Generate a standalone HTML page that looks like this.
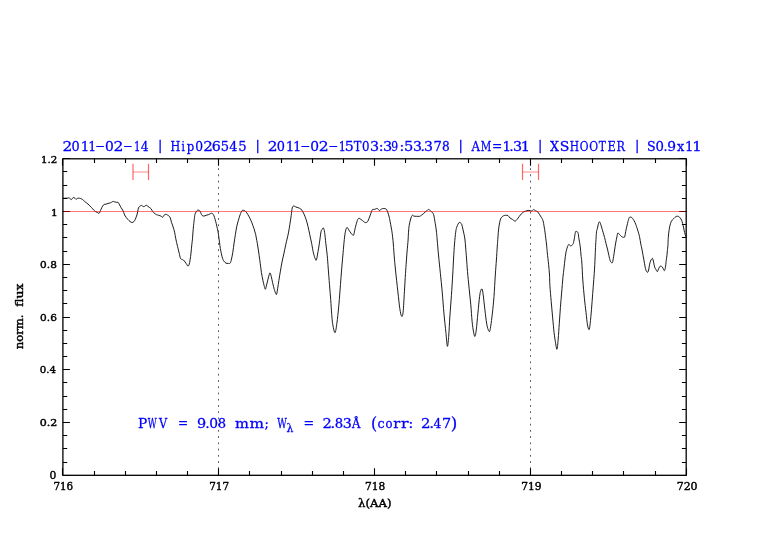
<!DOCTYPE html>
<html><head><meta charset="utf-8"><title>PWV plot</title>
<style>
html,body{margin:0;padding:0;background:#fff;width:782px;height:542px;overflow:hidden}
svg{display:block;will-change:transform}
text{font-family:"DejaVu Serif","Liberation Serif",serif}
</style></head><body>
<svg width="782" height="542" viewBox="0 0 782 542">
<rect width="782" height="542" fill="#fff"/>
<path d="M63,198.3C63.42,198.28 64.72,198.23 65.5,198.2C66.28,198.17 67.15,198.17 67.7,198.1C68.25,198.03 68.42,197.72 68.8,197.8C69.18,197.88 69.57,198.3 70,198.6C70.43,198.9 71,199.65 71.4,199.6C71.8,199.55 72.02,198.67 72.4,198.3C72.78,197.93 73.27,197.38 73.7,197.4C74.13,197.42 74.6,198.07 75,198.4C75.4,198.73 75.72,199.4 76.1,199.4C76.48,199.4 76.85,198.6 77.3,198.4C77.75,198.2 78.3,198.2 78.8,198.2C79.3,198.2 79.72,198.2 80.3,198.4C80.88,198.6 81.58,198.9 82.3,199.4C83.02,199.9 83.83,200.77 84.6,201.4C85.37,202.03 86.13,202.57 86.9,203.2C87.67,203.83 88.43,204.48 89.2,205.2C89.97,205.92 90.73,206.68 91.5,207.5C92.27,208.32 93.1,209.4 93.8,210.1C94.5,210.8 95.07,211.28 95.7,211.7C96.33,212.12 97.05,212.32 97.6,212.6C98.15,212.88 98.62,213.52 99,213.4C99.38,213.28 99.55,212.6 99.9,211.9C100.25,211.2 100.65,210.17 101.1,209.2C101.55,208.23 102.1,206.9 102.6,206.1C103.1,205.3 103.53,204.72 104.1,204.4C104.67,204.08 105.35,204.37 106,204.2C106.65,204.03 107.28,203.62 108,203.4C108.72,203.18 109.67,203.12 110.3,202.9C110.93,202.68 111.33,202.35 111.8,202.1C112.27,201.85 112.63,201.43 113.1,201.4C113.57,201.37 114.05,201.75 114.6,201.9C115.15,202.05 115.82,202.22 116.4,202.3C116.98,202.38 117.57,201.95 118.1,202.4C118.63,202.85 119.1,204.12 119.6,205C120.1,205.88 120.58,206.87 121.1,207.7C121.62,208.53 122.25,209.17 122.7,210C123.15,210.83 123.48,211.87 123.8,212.7C124.12,213.53 124.22,214.23 124.6,215C124.98,215.77 125.53,216.53 126.1,217.3C126.67,218.07 127.35,218.9 128,219.6C128.65,220.3 129.35,221.02 130,221.5C130.65,221.98 131.27,222.47 131.9,222.5C132.53,222.53 133.23,222.25 133.8,221.7C134.37,221.15 134.78,220.32 135.3,219.2C135.82,218.08 136.48,216.35 136.9,215C137.32,213.65 137.55,212.27 137.8,211.1C138.05,209.93 138.1,208.77 138.4,208C138.7,207.23 139.08,206.93 139.6,206.5C140.12,206.07 140.93,205.4 141.5,205.4C142.07,205.4 142.5,206.33 143,206.5C143.5,206.67 143.98,206.62 144.5,206.4C145.02,206.18 145.58,205.25 146.1,205.2C146.62,205.15 147.08,205.75 147.6,206.1C148.12,206.45 148.62,206.85 149.2,207.3C149.78,207.75 150.53,208.1 151.1,208.8C151.67,209.5 152.1,210.8 152.6,211.5C153.1,212.2 153.47,212.48 154.1,213C154.73,213.52 155.63,214.22 156.4,214.6C157.17,214.98 157.93,215.05 158.7,215.3C159.47,215.55 160.35,215.77 161,216.1C161.65,216.43 162.08,217.47 162.6,217.3C163.12,217.13 163.58,215.6 164.1,215.1C164.62,214.6 165.12,214.3 165.7,214.3C166.28,214.3 167.03,214.8 167.6,215.1C168.17,215.4 168.65,215.62 169.1,216.1C169.55,216.58 169.9,216.97 170.3,218C170.7,219.03 171.03,220.82 171.5,222.3C171.97,223.78 172.58,225.25 173.1,226.9C173.62,228.55 174.15,230.22 174.6,232.2C175.05,234.18 175.32,236.45 175.8,238.8C176.28,241.15 176.93,243.92 177.5,246.3C178.07,248.68 178.72,251.12 179.2,253.1C179.68,255.08 179.98,257.15 180.4,258.2C180.82,259.25 181.2,259.1 181.7,259.4C182.2,259.7 182.83,259.57 183.4,260C183.97,260.43 184.53,261.25 185.1,262C185.67,262.75 186.32,263.8 186.8,264.5C187.28,265.2 187.58,266.27 188,266.2C188.42,266.13 188.95,265.17 189.3,264.1C189.65,263.03 189.82,261.63 190.1,259.8C190.38,257.97 190.72,255.62 191,253.1C191.28,250.58 191.55,247.08 191.8,244.7C192.05,242.32 192.32,240.75 192.5,238.8C192.68,236.85 192.72,235.25 192.9,233C193.08,230.75 193.35,227.73 193.6,225.3C193.85,222.87 194.18,220.18 194.4,218.4C194.62,216.62 194.62,215.68 194.9,214.6C195.18,213.52 195.67,212.63 196.1,211.9C196.53,211.17 196.98,210.45 197.5,210.2C198.02,209.95 198.73,210.18 199.2,210.4C199.67,210.62 199.98,210.95 200.3,211.5C200.62,212.05 200.78,213.03 201.1,213.7C201.42,214.37 201.75,215.1 202.2,215.5C202.65,215.9 203.15,216.13 203.8,216.1C204.45,216.07 205.33,215.53 206.1,215.3C206.87,215.07 207.7,214.97 208.4,214.7C209.1,214.43 209.73,213.95 210.3,213.7C210.87,213.45 211.28,213.05 211.8,213.2C212.32,213.35 212.95,213.92 213.4,214.6C213.85,215.28 214.12,216.15 214.5,217.3C214.88,218.45 215.32,220.03 215.7,221.5C216.08,222.97 216.42,224.43 216.8,226.1C217.18,227.77 217.63,229.43 218,231.5C218.37,233.57 218.68,236.17 219,238.5C219.32,240.83 219.58,243.35 219.9,245.5C220.22,247.65 220.47,249.28 220.9,251.4C221.33,253.52 222,256.58 222.5,258.2C223,259.82 223.32,260.27 223.9,261.1C224.48,261.93 225.3,262.82 226,263.2C226.7,263.58 227.4,263.42 228.1,263.4C228.8,263.38 229.63,263.83 230.2,263.1C230.77,262.37 231.07,260.8 231.5,259C231.93,257.2 232.37,254.97 232.8,252.3C233.23,249.63 233.67,245.97 234.1,243C234.53,240.03 234.95,237.3 235.4,234.5C235.85,231.7 236.3,228.57 236.8,226.2C237.3,223.83 237.85,222.2 238.4,220.3C238.95,218.4 239.53,216.35 240.1,214.8C240.67,213.25 241.3,211.75 241.8,211C242.3,210.25 242.65,210.38 243.1,210.3C243.55,210.22 244.02,210.25 244.5,210.5C244.98,210.75 245.47,211.17 246,211.8C246.53,212.43 247.07,213.25 247.7,214.3C248.33,215.35 249.1,216.68 249.8,218.1C250.5,219.52 251.2,221.03 251.9,222.8C252.6,224.57 253.37,226.73 254,228.7C254.63,230.67 255.23,232.63 255.7,234.6C256.17,236.57 256.43,238.43 256.8,240.5C257.17,242.57 257.52,244.55 257.9,247C258.28,249.45 258.72,252.5 259.1,255.2C259.48,257.9 259.82,260.35 260.2,263.2C260.58,266.05 260.95,269.45 261.4,272.3C261.85,275.15 262.4,277.92 262.9,280.3C263.4,282.68 263.98,285.12 264.4,286.6C264.82,288.08 265.03,289.48 265.4,289.2C265.77,288.92 266.17,286.57 266.6,284.9C267.03,283.23 267.57,280.92 268,279.2C268.43,277.48 268.85,275.65 269.2,274.6C269.55,273.55 269.77,272.62 270.1,272.9C270.43,273.18 270.78,274.68 271.2,276.3C271.62,277.92 272.08,280.4 272.6,282.6C273.12,284.8 273.77,287.68 274.3,289.5C274.83,291.32 275.42,292.7 275.8,293.5C276.18,294.3 276.28,295.17 276.6,294.3C276.92,293.43 277.32,290.63 277.7,288.3C278.08,285.97 278.45,283.15 278.9,280.3C279.35,277.45 279.88,274.25 280.4,271.2C280.92,268.15 281.43,264.87 282,262C282.57,259.13 283.18,256.85 283.8,254C284.42,251.15 285.12,247.57 285.7,244.9C286.28,242.23 286.82,240.13 287.3,238C287.78,235.87 288.17,234.4 288.6,232.1C289.03,229.8 289.47,226.97 289.9,224.2C290.33,221.43 290.82,218.2 291.2,215.5C291.58,212.8 291.8,209.58 292.2,208C292.6,206.42 292.97,206.17 293.6,206C294.23,205.83 295.2,206.7 296,207C296.8,207.3 297.6,207.47 298.4,207.8C299.2,208.13 300.1,208.4 300.8,209C301.5,209.6 302,210.4 302.6,211.4C303.2,212.4 303.8,213.6 304.4,215C305,216.4 305.6,217.9 306.2,219.8C306.8,221.7 307.4,223.9 308,226.4C308.6,228.9 309.2,232 309.8,234.8C310.4,237.6 311,240.2 311.6,243.2C312.2,246.2 312.8,250.2 313.4,252.8C314,255.4 314.7,257.6 315.2,258.8C315.7,260 316,260.8 316.4,260C316.8,259.2 317.1,256.8 317.6,254C318.1,251.2 318.83,246.9 319.4,243.2C319.97,239.5 320.53,234.1 321,231.8C321.47,229.5 321.8,230.05 322.2,229.4C322.6,228.75 323,227.4 323.4,227.9C323.8,228.4 324.2,229.85 324.6,232.4C325,234.95 325.37,239.4 325.8,243.2C326.23,247 326.8,251.07 327.2,255.2C327.6,259.33 327.82,263.07 328.2,268C328.58,272.93 329.08,279.55 329.5,284.8C329.92,290.05 330.33,294.58 330.7,299.5C331.07,304.42 331.35,310.12 331.7,314.3C332.05,318.48 332.25,321.53 332.8,324.6C333.35,327.67 334.32,332.95 335,332.7C335.68,332.45 336.28,327.4 336.9,323.1C337.52,318.8 338.2,312.07 338.7,306.9C339.2,301.73 339.52,297.02 339.9,292.1C340.28,287.18 340.65,281.92 341,277.4C341.35,272.88 341.65,269.1 342,265C342.35,260.9 342.72,257.03 343.1,252.8C343.48,248.57 343.9,243.2 344.3,239.6C344.7,236 345.05,233.23 345.5,231.2C345.95,229.17 346.45,227.6 347,227.4C347.55,227.2 348.3,229.27 348.8,230C349.3,230.73 349.55,231.17 350,231.8C350.45,232.43 350.92,233.22 351.5,233.8C352.08,234.38 352.98,235.82 353.5,235.3C354.02,234.78 354.17,232.48 354.6,230.7C355.03,228.92 355.58,226.45 356.1,224.6C356.62,222.75 357.2,220.65 357.7,219.6C358.2,218.55 358.6,218.37 359.1,218.3C359.6,218.23 360.1,218.8 360.7,219.2C361.3,219.6 362.05,220.18 362.7,220.7C363.35,221.22 364.03,221.98 364.6,222.3C365.17,222.62 365.58,222.73 366.1,222.6C366.62,222.47 367.22,222.2 367.7,221.5C368.18,220.8 368.57,219.48 369,218.4C369.43,217.32 369.88,216.15 370.3,215C370.72,213.85 371.15,212.4 371.5,211.5C371.85,210.6 371.95,209.95 372.4,209.6C372.85,209.25 373.58,209.53 374.2,209.4C374.82,209.27 375.6,208.98 376.1,208.8C376.6,208.62 376.82,208.17 377.2,208.3C377.58,208.43 378.02,209.22 378.4,209.6C378.78,209.98 379.12,210.6 379.5,210.6C379.88,210.6 380.18,209.93 380.7,209.6C381.22,209.27 381.9,208.77 382.6,208.6C383.3,208.43 384.25,208.47 384.9,208.6C385.55,208.73 386.05,208.85 386.5,209.4C386.95,209.95 387.28,211.1 387.6,211.9C387.92,212.7 388.08,213.12 388.4,214.2C388.72,215.28 389.12,216.67 389.5,218.4C389.88,220.13 390.32,222.55 390.7,224.6C391.08,226.65 391.48,228.67 391.8,230.7C392.12,232.73 392.33,234.42 392.6,236.8C392.87,239.18 393.13,241.8 393.4,245C393.67,248.2 393.85,251.83 394.2,256C394.55,260.17 394.88,264.02 395.5,270C396.12,275.98 397.18,285.48 397.9,291.9C398.62,298.32 399.18,304.43 399.8,308.5C400.42,312.57 401.05,315.68 401.6,316.3C402.15,316.92 402.63,316.27 403.1,312.2C403.57,308.13 404,298.35 404.4,291.9C404.8,285.45 405.18,278.48 405.5,273.5C405.82,268.52 406.03,265.75 406.3,262C406.57,258.25 406.8,254.67 407.1,251C407.4,247.33 407.87,243.13 408.1,240C408.33,236.87 408.32,234.65 408.5,232.2C408.68,229.75 408.88,227.33 409.2,225.3C409.52,223.27 410.02,221.47 410.4,220C410.78,218.53 411.15,217.3 411.5,216.5C411.85,215.7 412.12,215.27 412.5,215.2C412.88,215.13 413.13,215.92 413.8,216.1C414.47,216.28 415.53,216.27 416.5,216.3C417.47,216.33 418.77,216.48 419.6,216.3C420.43,216.12 420.87,215.63 421.5,215.2C422.13,214.77 422.77,214.25 423.4,213.7C424.03,213.15 424.65,212.45 425.3,211.9C425.95,211.35 426.78,210.82 427.3,210.4C427.82,209.98 428.02,209.45 428.4,209.4C428.78,209.35 429.08,209.72 429.6,210.1C430.12,210.48 430.93,211.18 431.5,211.7C432.07,212.22 432.58,212.47 433,213.2C433.42,213.93 433.68,214.72 434,216.1C434.32,217.48 434.62,219.83 434.9,221.5C435.18,223.17 435.43,224.32 435.7,226.1C435.97,227.88 436.25,229.88 436.5,232.2C436.75,234.52 436.87,236.2 437.2,240C437.53,243.8 437.97,249.42 438.5,255C439.03,260.58 439.78,267.35 440.4,273.5C441.02,279.65 441.6,285.15 442.2,291.9C442.8,298.65 443.38,307.23 444,314C444.62,320.77 445.33,327.12 445.9,332.5C446.47,337.88 446.93,345.68 447.4,346.3C447.87,346.92 448.28,341.27 448.7,336.2C449.12,331.13 449.45,322.67 449.9,315.9C450.35,309.13 450.93,302.42 451.4,295.6C451.87,288.78 452.33,281.27 452.7,275C453.07,268.73 453.3,263.17 453.6,258C453.9,252.83 454.15,248.3 454.5,244C454.85,239.7 455.35,234.93 455.7,232.2C456.05,229.47 456.22,228.93 456.6,227.6C456.98,226.27 457.55,225.07 458,224.2C458.45,223.33 458.87,222.62 459.3,222.4C459.73,222.18 460.18,222.53 460.6,222.9C461.02,223.27 461.42,223.55 461.8,224.6C462.18,225.65 462.52,227.55 462.9,229.2C463.28,230.85 463.75,232.7 464.1,234.5C464.45,236.3 464.73,237.75 465,240C465.27,242.25 465.45,245 465.7,248C465.95,251 466.2,254.07 466.5,258C466.8,261.93 467.07,266.57 467.5,271.6C467.93,276.63 468.55,282.67 469.1,288.2C469.65,293.73 470.3,299.27 470.8,304.8C471.3,310.33 471.63,316.83 472.1,321.4C472.57,325.97 473.13,329.7 473.6,332.2C474.07,334.7 474.45,336.8 474.9,336.4C475.35,336 475.8,333.68 476.3,329.8C476.8,325.92 477.35,318.65 477.9,313.1C478.45,307.55 479.13,300.23 479.6,296.5C480.07,292.77 480.28,291.93 480.7,290.7C481.12,289.47 481.68,288.4 482.1,289.1C482.52,289.8 482.73,291.45 483.2,294.9C483.67,298.35 484.33,305.1 484.9,309.8C485.47,314.5 486.05,319.77 486.6,323.1C487.15,326.43 487.7,328.42 488.2,329.8C488.7,331.18 489.18,331.97 489.6,331.4C490.02,330.83 490.23,329.45 490.7,326.4C491.17,323.35 491.85,318.08 492.4,313.1C492.95,308.12 493.52,302.85 494,296.5C494.48,290.15 494.9,281.08 495.3,275C495.7,268.92 496.07,264.83 496.4,260C496.73,255.17 497.05,249.67 497.3,246C497.55,242.33 497.73,240.3 497.9,238C498.07,235.7 498.13,234.05 498.3,232.2C498.47,230.35 498.67,228.55 498.9,226.9C499.13,225.25 499.38,223.72 499.7,222.3C500.02,220.88 500.35,219.37 500.8,218.4C501.25,217.43 501.82,216.98 502.4,216.5C502.98,216.02 503.67,215.7 504.3,215.5C504.93,215.3 505.57,215.27 506.2,215.3C506.83,215.33 507.47,215.25 508.1,215.7C508.73,216.15 509.3,217.4 510,218C510.7,218.6 511.47,218.78 512.3,219.3C513.13,219.82 514.23,221.05 515,221.1C515.77,221.15 516.2,220.37 516.9,219.6C517.6,218.83 518.43,217.48 519.2,216.5C519.97,215.52 520.73,214.47 521.5,213.7C522.27,212.93 523.02,212.37 523.8,211.9C524.58,211.43 525.48,211.15 526.2,210.9C526.92,210.65 527.47,210.45 528.1,210.4C528.73,210.35 529.43,210.48 530,210.6C530.57,210.72 531.05,211.18 531.5,211.1C531.95,211.02 532.32,210.35 532.7,210.1C533.08,209.85 533.35,209.52 533.8,209.6C534.25,209.68 534.75,210.22 535.4,210.6C536.05,210.98 537,211.23 537.7,211.9C538.4,212.57 538.97,213.63 539.6,214.6C540.23,215.57 540.93,216.68 541.5,217.7C542.07,218.72 542.55,219.17 543,220.7C543.45,222.23 543.87,224.98 544.2,226.9C544.53,228.82 544.73,230.27 545,232.2C545.27,234.13 545.53,236.37 545.8,238.5C546.07,240.63 546.35,242.62 546.6,245C546.85,247.38 546.97,249.57 547.3,252.8C547.63,256.03 548.23,260.7 548.6,264.4C548.97,268.1 549.28,271.45 549.5,275C549.72,278.55 549.62,281.3 549.9,285.7C550.18,290.1 550.75,296.17 551.2,301.4C551.65,306.63 552.12,311.88 552.6,317.1C553.08,322.32 553.58,328.27 554.1,332.7C554.62,337.13 555.22,340.95 555.7,343.7C556.18,346.45 556.58,349.98 557,349.2C557.42,348.42 557.82,343.32 558.2,339C558.58,334.68 558.93,328.53 559.3,323.3C559.67,318.07 560,312.82 560.4,307.6C560.8,302.38 561.28,296.97 561.7,292C562.12,287.03 562.52,281.8 562.9,277.8C563.28,273.8 563.67,270.97 564,268C564.33,265.03 564.62,262.32 564.9,260C565.18,257.68 565.45,255.72 565.7,254.1C565.95,252.48 566.08,251.57 566.4,250.3C566.72,249.03 567.22,247.47 567.6,246.5C567.98,245.53 568.32,244.7 568.7,244.5C569.08,244.3 569.52,245.03 569.9,245.3C570.28,245.57 570.62,246.17 571,246.1C571.38,246.03 571.82,245.35 572.2,244.9C572.58,244.45 572.95,244.42 573.3,243.4C573.65,242.38 574.02,240.33 574.3,238.8C574.58,237.27 574.75,235.45 575,234.2C575.25,232.95 575.5,231.72 575.8,231.3C576.1,230.88 576.42,231.45 576.8,231.7C577.18,231.95 577.78,231.87 578.1,232.8C578.42,233.73 578.45,235.67 578.7,237.3C578.95,238.93 579.32,240.82 579.6,242.6C579.88,244.38 580.17,245.93 580.4,248C580.63,250.07 580.77,252.67 581,255C581.23,257.33 581.5,257.83 581.8,262C582.1,266.17 582.37,273.97 582.8,280C583.23,286.03 583.87,292.82 584.4,298.2C584.93,303.58 585.48,307.85 586,312.3C586.52,316.75 586.98,322.02 587.5,324.9C588.02,327.78 588.65,329.87 589.1,329.6C589.55,329.33 589.8,326.7 590.2,323.3C590.6,319.9 591.08,314.17 591.5,309.2C591.92,304.23 592.32,298.47 592.7,293.5C593.08,288.53 593.48,283.65 593.8,279.4C594.12,275.15 594.37,272.07 594.6,268C594.83,263.93 595.03,258.72 595.2,255C595.37,251.28 595.47,248.27 595.6,245.7C595.73,243.13 595.85,241.9 596,239.6C596.15,237.3 596.25,233.83 596.5,231.9C596.75,229.97 597.2,229.28 597.5,228C597.8,226.72 598,225.23 598.3,224.2C598.6,223.17 598.97,221.97 599.3,221.8C599.63,221.63 599.93,222.35 600.3,223.2C600.67,224.05 601.03,225.38 601.5,226.9C601.97,228.42 602.58,230.52 603.1,232.3C603.62,234.08 604.1,235.68 604.6,237.6C605.1,239.52 605.58,241.73 606.1,243.8C606.62,245.87 607.23,248.05 607.7,250C608.17,251.95 608.48,253.7 608.9,255.5C609.32,257.3 609.78,259.62 610.2,260.8C610.62,261.98 611.02,262.33 611.4,262.6C611.78,262.87 612.13,263.38 612.5,262.4C612.87,261.42 613.25,258.77 613.6,256.7C613.95,254.63 614.25,252.28 614.6,250C614.95,247.72 615.32,245.18 615.7,243C616.08,240.82 616.55,238.57 616.9,236.9C617.25,235.23 617.35,233.38 617.8,233C618.25,232.62 618.98,234.02 619.6,234.6C620.22,235.18 620.93,236.07 621.5,236.5C622.07,236.93 622.48,237.12 623,237.2C623.52,237.28 624.15,237.95 624.6,237C625.05,236.05 625.32,233.32 625.7,231.5C626.08,229.68 626.52,227.77 626.9,226.1C627.28,224.43 627.62,222.9 628,221.5C628.38,220.1 628.82,218.43 629.2,217.7C629.58,216.97 629.87,217.13 630.3,217.1C630.73,217.07 631.28,217.08 631.8,217.5C632.32,217.92 632.88,218.8 633.4,219.6C633.92,220.4 634.38,221.15 634.9,222.3C635.42,223.45 635.98,225.03 636.5,226.5C637.02,227.97 637.5,229.43 638,231.1C638.5,232.77 639.03,234.33 639.5,236.5C639.97,238.67 640.4,242.02 640.8,244.1C641.2,246.18 641.55,247.27 641.9,249C642.25,250.73 642.57,252.67 642.9,254.5C643.23,256.33 643.55,258.05 643.9,260C644.25,261.95 644.65,264.47 645,266.2C645.35,267.93 645.55,269.38 646,270.4C646.45,271.42 647.23,272.53 647.7,272.3C648.17,272.07 648.5,270.23 648.8,269C649.1,267.77 649.22,266.22 649.5,264.9C649.78,263.58 650.17,262.03 650.5,261.1C650.83,260.17 651.15,259.73 651.5,259.3C651.85,258.87 652.25,258.03 652.6,258.5C652.95,258.97 653.27,260.7 653.6,262.1C653.93,263.5 654.2,265.63 654.6,266.9C655,268.17 655.53,268.92 656,269.7C656.47,270.48 656.93,271.83 657.4,271.6C657.87,271.37 658.33,269.2 658.8,268.3C659.27,267.4 659.73,266.52 660.2,266.2C660.67,265.88 661.15,266.1 661.6,266.4C662.05,266.7 662.45,267.28 662.9,268C663.35,268.72 663.88,270.77 664.3,270.7C664.72,270.63 665.08,269.27 665.4,267.6C665.72,265.93 665.95,262.65 666.2,260.7C666.45,258.75 666.7,257.62 666.9,255.9C667.1,254.18 667.23,252.13 667.4,250.4C667.57,248.67 667.75,247.65 667.9,245.5C668.05,243.35 668.12,239.95 668.3,237.5C668.48,235.05 668.73,232.77 669,230.8C669.27,228.83 669.5,227.3 669.9,225.7C670.3,224.1 670.78,222.37 671.4,221.2C672.02,220.03 672.87,219.45 673.6,218.7C674.33,217.95 675.12,217.12 675.8,216.7C676.48,216.28 677.08,216.12 677.7,216.2C678.32,216.28 678.95,216.73 679.5,217.2C680.05,217.67 680.57,218.27 681,219C681.43,219.73 681.73,220.48 682.1,221.6C682.47,222.72 682.87,224.28 683.2,225.7C683.53,227.12 683.78,228.63 684.1,230.1C684.42,231.57 684.75,233.37 685.1,234.5C685.45,235.63 686.02,236.5 686.2,236.9" fill="none" stroke="#111" stroke-width="0.95" stroke-linejoin="round"/>
<path d="M218.5,158.8V475.3" stroke="#222" stroke-width="0.75" stroke-dasharray="1.8 4.432" stroke-dashoffset="3.064" fill="none"/><path d="M530.5,158.8V475.3" stroke="#222" stroke-width="0.75" stroke-dasharray="1.8 4.432" stroke-dashoffset="3.064" fill="none"/>
<path d="M133,163.8V179.9M148.5,163.8V179.9" stroke="#ff0000" stroke-opacity="0.6" stroke-width="1.2" fill="none"/><path d="M133,172H148.5" stroke="#ff0000" stroke-opacity="0.33" stroke-width="1.4" fill="none"/><path d="M522.5,163.8V179.9M538.5,163.8V179.9" stroke="#ff0000" stroke-opacity="0.6" stroke-width="1.2" fill="none"/><path d="M522.5,172H538.5" stroke="#ff0000" stroke-opacity="0.33" stroke-width="1.4" fill="none"/>
<path d="M62.5,475.3V468.3M62.5,158.8V165.8M94.5,475.3V471M94.5,158.8V163.1M125.5,475.3V471M125.5,158.8V163.1M156.5,475.3V471M156.5,158.8V163.1M187.5,475.3V471M187.5,158.8V163.1M218.5,475.3V468.3M218.5,158.8V165.8M249.5,475.3V471M249.5,158.8V163.1M281.5,475.3V471M281.5,158.8V163.1M312.5,475.3V471M312.5,158.8V163.1M343.5,475.3V471M343.5,158.8V163.1M374.5,475.3V468.3M374.5,158.8V165.8M405.5,475.3V471M405.5,158.8V163.1M436.5,475.3V471M436.5,158.8V163.1M468.5,475.3V471M468.5,158.8V163.1M499.5,475.3V471M499.5,158.8V163.1M530.5,475.3V468.3M530.5,158.8V165.8M561.5,475.3V471M561.5,158.8V163.1M592.5,475.3V471M592.5,158.8V163.1M623.5,475.3V471M623.5,158.8V163.1M655.5,475.3V471M655.5,158.8V163.1M686.5,475.3V468.3M686.5,158.8V165.8M62.9,475.5H69.9M686.2,475.5H679.2M62.9,462.5H67.2M686.2,462.5H681.9M62.9,448.5H67.2M686.2,448.5H681.9M62.9,435.5H67.2M686.2,435.5H681.9M62.9,422.5H69.9M686.2,422.5H679.2M62.9,409.5H67.2M686.2,409.5H681.9M62.9,396.5H67.2M686.2,396.5H681.9M62.9,382.5H67.2M686.2,382.5H681.9M62.9,369.5H69.9M686.2,369.5H679.2M62.9,356.5H67.2M686.2,356.5H681.9M62.9,343.5H67.2M686.2,343.5H681.9M62.9,330.5H67.2M686.2,330.5H681.9M62.9,317.5H69.9M686.2,317.5H679.2M62.9,303.5H67.2M686.2,303.5H681.9M62.9,290.5H67.2M686.2,290.5H681.9M62.9,277.5H67.2M686.2,277.5H681.9M62.9,264.5H69.9M686.2,264.5H679.2M62.9,251.5H67.2M686.2,251.5H681.9M62.9,237.5H67.2M686.2,237.5H681.9M62.9,224.5H67.2M686.2,224.5H681.9M62.9,211.5H69.9M686.2,211.5H679.2M62.9,198.5H67.2M686.2,198.5H681.9M62.9,185.5H67.2M686.2,185.5H681.9M62.9,171.5H67.2M686.2,171.5H681.9M62.9,158.5H69.9M686.2,158.5H679.2" stroke="#000" stroke-width="1.1" fill="none"/>
<path d="M63.8,211.5H685.3" stroke="#ff0000" stroke-opacity="0.53" stroke-width="1"/>
<rect x="62.9" y="158.8" width="623.3" height="316.5" fill="none" stroke="#000" stroke-width="1.3"/>
<text font-size="14" fill="#0000ff" stroke="#0000ff" stroke-linejoin="round" stroke-width="0.28"><tspan x="62.47" y="150.75" font-size="13.805" textLength="9.801" lengthAdjust="spacingAndGlyphs">2</tspan><tspan x="71.61" y="150.52" font-size="13.491" textLength="8.197" lengthAdjust="spacingAndGlyphs">0</tspan><tspan x="80.65" y="150.76" font-size="13.491" textLength="8.586" lengthAdjust="spacingAndGlyphs">1</tspan><tspan x="88.16" y="150.76" font-size="13.491" textLength="7.938" lengthAdjust="spacingAndGlyphs">1</tspan><tspan x="95.12" y="150.27" font-size="13.608" textLength="10.218" lengthAdjust="spacingAndGlyphs" stroke-width="0.05">-</tspan><tspan x="105.06" y="150.52" font-size="13.491" textLength="8.791" lengthAdjust="spacingAndGlyphs">0</tspan><tspan x="113.56" y="150.75" font-size="13.805" textLength="9.928" lengthAdjust="spacingAndGlyphs">2</tspan><tspan x="122.72" y="150.27" font-size="13.608" textLength="10.218" lengthAdjust="spacingAndGlyphs" stroke-width="0.05">-</tspan><tspan x="133.91" y="150.76" font-size="13.491" textLength="6.480" lengthAdjust="spacingAndGlyphs">1</tspan><tspan x="140.78" y="150.76" font-size="13.491" textLength="7.884" lengthAdjust="spacingAndGlyphs">4</tspan> <tspan x="158.12" y="149.57" font-size="12.938" textLength="4.361" lengthAdjust="spacingAndGlyphs">|</tspan> <tspan x="170.6" y="150.75" font-size="13.805" textLength="9.769" lengthAdjust="spacingAndGlyphs">H</tspan><tspan x="181.61" y="151" font-size="13.608" textLength="3.360" lengthAdjust="spacingAndGlyphs">i</tspan><tspan x="186.69" y="151" font-size="13.608" textLength="7.498" lengthAdjust="spacingAndGlyphs">p</tspan><tspan x="195.34" y="150.52" font-size="13.491" textLength="7.841" lengthAdjust="spacingAndGlyphs">0</tspan><tspan x="203.19" y="150.75" font-size="13.805" textLength="9.674" lengthAdjust="spacingAndGlyphs">2</tspan><tspan x="211.84" y="150.52" font-size="13.491" textLength="9.029" lengthAdjust="spacingAndGlyphs">6</tspan><tspan x="220.67" y="150.75" font-size="13.805" textLength="8.274" lengthAdjust="spacingAndGlyphs">5</tspan><tspan x="229.27" y="150.76" font-size="13.491" textLength="8.208" lengthAdjust="spacingAndGlyphs">4</tspan><tspan x="238.26" y="150.75" font-size="13.805" textLength="8.401" lengthAdjust="spacingAndGlyphs">5</tspan> <tspan x="255.42" y="149.57" font-size="12.938" textLength="4.361" lengthAdjust="spacingAndGlyphs">|</tspan> <tspan x="267.68" y="150.75" font-size="13.805" textLength="9.801" lengthAdjust="spacingAndGlyphs">2</tspan><tspan x="276.81" y="150.52" font-size="13.491" textLength="8.197" lengthAdjust="spacingAndGlyphs">0</tspan><tspan x="285.85" y="150.76" font-size="13.491" textLength="8.586" lengthAdjust="spacingAndGlyphs">1</tspan><tspan x="293.36" y="150.76" font-size="13.491" textLength="7.938" lengthAdjust="spacingAndGlyphs">1</tspan><tspan x="299.99" y="150.27" font-size="13.608" textLength="10.470" lengthAdjust="spacingAndGlyphs" stroke-width="0.05">-</tspan><tspan x="310.36" y="150.52" font-size="13.491" textLength="8.791" lengthAdjust="spacingAndGlyphs">0</tspan><tspan x="318.86" y="150.75" font-size="13.805" textLength="9.928" lengthAdjust="spacingAndGlyphs">2</tspan><tspan x="328.09" y="150.27" font-size="13.608" textLength="10.470" lengthAdjust="spacingAndGlyphs" stroke-width="0.05">-</tspan><tspan x="338.8" y="150.76" font-size="13.491" textLength="7.128" lengthAdjust="spacingAndGlyphs">1</tspan><tspan x="344.89" y="150.75" font-size="13.805" textLength="9.037" lengthAdjust="spacingAndGlyphs">5</tspan><tspan x="353.7" y="150.75" font-size="13.805" textLength="7.669" lengthAdjust="spacingAndGlyphs">T</tspan><tspan x="361.97" y="150.52" font-size="13.491" textLength="7.485" lengthAdjust="spacingAndGlyphs">0</tspan><tspan x="370.03" y="150.52" font-size="13.491" textLength="9.095" lengthAdjust="spacingAndGlyphs">3</tspan><tspan x="378.72" y="151" font-size="13.608" textLength="4.824" lengthAdjust="spacingAndGlyphs">:</tspan><tspan x="382.92" y="150.52" font-size="13.491" textLength="9.217" lengthAdjust="spacingAndGlyphs">3</tspan><tspan x="391.32" y="150.52" font-size="13.491" textLength="6.891" lengthAdjust="spacingAndGlyphs">9</tspan><tspan x="399.42" y="151" font-size="13.608" textLength="4.824" lengthAdjust="spacingAndGlyphs">:</tspan><tspan x="403.96" y="150.75" font-size="13.805" textLength="9.292" lengthAdjust="spacingAndGlyphs">5</tspan><tspan x="413.04" y="150.52" font-size="13.491" textLength="8.972" lengthAdjust="spacingAndGlyphs">3</tspan><tspan x="420.55" y="151" font-size="13.608" textLength="4.453" lengthAdjust="spacingAndGlyphs">.</tspan><tspan x="424.14" y="150.52" font-size="13.491" textLength="8.972" lengthAdjust="spacingAndGlyphs">3</tspan><tspan x="433.57" y="150.75" font-size="13.805" textLength="8.274" lengthAdjust="spacingAndGlyphs">7</tspan><tspan x="441.95" y="150.52" font-size="13.491" textLength="7.722" lengthAdjust="spacingAndGlyphs">8</tspan> <tspan x="458.42" y="149.57" font-size="12.938" textLength="4.361" lengthAdjust="spacingAndGlyphs">|</tspan> <tspan x="471.51" y="150.75" font-size="13.805" textLength="8.467" lengthAdjust="spacingAndGlyphs">A</tspan><tspan x="480.73" y="150.75" font-size="13.805" textLength="10.603" lengthAdjust="spacingAndGlyphs">M</tspan><tspan x="491.91" y="150.25" font-size="13.608" textLength="10.272" lengthAdjust="spacingAndGlyphs">=</tspan><tspan x="502.55" y="150.76" font-size="13.491" textLength="8.586" lengthAdjust="spacingAndGlyphs">1</tspan><tspan x="509.35" y="151" font-size="13.608" textLength="4.453" lengthAdjust="spacingAndGlyphs">.</tspan><tspan x="513.03" y="150.52" font-size="13.491" textLength="9.095" lengthAdjust="spacingAndGlyphs">3</tspan><tspan x="520.85" y="150.76" font-size="13.491" textLength="9.234" lengthAdjust="spacingAndGlyphs">1</tspan> <tspan x="537.92" y="149.57" font-size="12.938" textLength="4.361" lengthAdjust="spacingAndGlyphs">|</tspan> <tspan x="550.1" y="150.75" font-size="13.805" textLength="8.972" lengthAdjust="spacingAndGlyphs">X</tspan><tspan x="559.89" y="150.52" font-size="13.491" textLength="9.656" lengthAdjust="spacingAndGlyphs">S</tspan><tspan x="569.72" y="150.75" font-size="13.805" textLength="9.335" lengthAdjust="spacingAndGlyphs">H</tspan><tspan x="579.72" y="150.52" font-size="13.491" textLength="8.747" lengthAdjust="spacingAndGlyphs">O</tspan><tspan x="589.21" y="150.52" font-size="13.491" textLength="8.856" lengthAdjust="spacingAndGlyphs">O</tspan><tspan x="598.8" y="150.75" font-size="13.805" textLength="7.177" lengthAdjust="spacingAndGlyphs">T</tspan><tspan x="607.59" y="150.75" font-size="13.805" textLength="8.295" lengthAdjust="spacingAndGlyphs">E</tspan><tspan x="616.4" y="150.75" font-size="13.805" textLength="8.434" lengthAdjust="spacingAndGlyphs">R</tspan> <tspan x="634.92" y="149.57" font-size="12.938" textLength="4.361" lengthAdjust="spacingAndGlyphs">|</tspan> <tspan x="647.1" y="150.52" font-size="13.491" textLength="8.665" lengthAdjust="spacingAndGlyphs">S</tspan><tspan x="655.39" y="150.52" font-size="13.491" textLength="8.435" lengthAdjust="spacingAndGlyphs">0</tspan><tspan x="663.58" y="151" font-size="13.608" textLength="4.008" lengthAdjust="spacingAndGlyphs">.</tspan><tspan x="667.26" y="150.52" font-size="13.491" textLength="8.791" lengthAdjust="spacingAndGlyphs">9</tspan><tspan x="676.9" y="151" font-size="13.608" textLength="7.306" lengthAdjust="spacingAndGlyphs">x</tspan><tspan x="685.08" y="150.76" font-size="13.491" textLength="8.424" lengthAdjust="spacingAndGlyphs">1</tspan><tspan x="692.39" y="150.76" font-size="13.491" textLength="9.558" lengthAdjust="spacingAndGlyphs">1</tspan></text>
<text font-size="14" fill="#0000ff" stroke="#0000ff" stroke-linejoin="round" stroke-width="0.28"><tspan x="138.11" y="427.96" font-size="13.674" textLength="9.200" lengthAdjust="spacingAndGlyphs">P</tspan><tspan x="147.86" y="427.96" font-size="13.674" textLength="8.976" lengthAdjust="spacingAndGlyphs">W</tspan><tspan x="159" y="427.96" font-size="13.674" textLength="8.185" lengthAdjust="spacingAndGlyphs">V</tspan> <tspan x="177.92" y="427.43" font-size="13.531" textLength="10.145" lengthAdjust="spacingAndGlyphs">=</tspan> <tspan x="197.03" y="427.72" font-size="13.364" textLength="9.148" lengthAdjust="spacingAndGlyphs">9</tspan><tspan x="205.25" y="428.2" font-size="13.531" textLength="4.453" lengthAdjust="spacingAndGlyphs">.</tspan><tspan x="209.26" y="427.72" font-size="13.364" textLength="8.791" lengthAdjust="spacingAndGlyphs">0</tspan><tspan x="217.7" y="427.72" font-size="13.364" textLength="8.316" lengthAdjust="spacingAndGlyphs">8</tspan> <tspan x="235.14" y="428.2" font-size="13.531" textLength="13.954" lengthAdjust="spacingAndGlyphs">m</tspan><tspan x="249.53" y="428.2" font-size="13.531" textLength="14.579" lengthAdjust="spacingAndGlyphs">m</tspan><tspan x="264.57" y="428.2" font-size="13.531" textLength="4.356" lengthAdjust="spacingAndGlyphs">;</tspan> <tspan x="277.27" y="427.96" font-size="13.674" textLength="9.561" lengthAdjust="spacingAndGlyphs">W</tspan><tspan x="286.51" y="431.62" font-size="10.080" textLength="6.885" lengthAdjust="spacingAndGlyphs">λ</tspan> <tspan x="303.46" y="427.43" font-size="13.531" textLength="10.653" lengthAdjust="spacingAndGlyphs">=</tspan> <tspan x="322.41" y="427.96" font-size="13.674" textLength="9.419" lengthAdjust="spacingAndGlyphs">2</tspan><tspan x="330.26" y="428.2" font-size="13.531" textLength="5.121" lengthAdjust="spacingAndGlyphs">.</tspan><tspan x="334.69" y="427.72" font-size="13.364" textLength="8.435" lengthAdjust="spacingAndGlyphs">8</tspan><tspan x="342.83" y="427.72" font-size="13.364" textLength="9.095" lengthAdjust="spacingAndGlyphs">3</tspan><tspan x="352.01" y="427.96" font-size="13.274" textLength="8.373" lengthAdjust="spacingAndGlyphs">Å</tspan> <tspan x="370.88" y="428.66" font-size="15.831" textLength="6.121" lengthAdjust="spacingAndGlyphs">(</tspan><tspan x="377.44" y="428.2" font-size="13.531" textLength="7.205" lengthAdjust="spacingAndGlyphs">c</tspan><tspan x="385.59" y="428.2" font-size="13.531" textLength="6.969" lengthAdjust="spacingAndGlyphs">o</tspan><tspan x="393.34" y="428.2" font-size="13.531" textLength="7.042" lengthAdjust="spacingAndGlyphs">r</tspan><tspan x="400.92" y="428.2" font-size="13.531" textLength="7.538" lengthAdjust="spacingAndGlyphs">r</tspan><tspan x="408.31" y="428.2" font-size="13.531" textLength="5.243" lengthAdjust="spacingAndGlyphs">:</tspan> <tspan x="421" y="427.96" font-size="13.674" textLength="9.547" lengthAdjust="spacingAndGlyphs">2</tspan><tspan x="429.23" y="428.2" font-size="13.531" textLength="4.898" lengthAdjust="spacingAndGlyphs">.</tspan><tspan x="433.58" y="427.96" font-size="13.364" textLength="7.884" lengthAdjust="spacingAndGlyphs">4</tspan><tspan x="441.97" y="427.96" font-size="13.674" textLength="9.165" lengthAdjust="spacingAndGlyphs">7</tspan><tspan x="450.7" y="428.84" font-size="15.938" textLength="6.558" lengthAdjust="spacingAndGlyphs">)</tspan></text>
<text x="40.93" y="162.96" font-size="9.976" textLength="16.406" lengthAdjust="spacingAndGlyphs" fill="#000" stroke="#000" stroke-width="0.42" stroke-linejoin="round">1.2</text>
<text x="51" y="215.67" font-size="9.727" textLength="6.746" lengthAdjust="spacingAndGlyphs" fill="#000" stroke="#000" stroke-width="0.42" stroke-linejoin="round">1</text>
<text x="40.1" y="267.96" font-size="10.022" textLength="16.750" lengthAdjust="spacingAndGlyphs" fill="#000" stroke="#000" stroke-width="0.42" stroke-linejoin="round">0.8</text>
<text x="40.1" y="320.67" font-size="9.636" textLength="16.750" lengthAdjust="spacingAndGlyphs" fill="#000" stroke="#000" stroke-width="0.42" stroke-linejoin="round">0.6</text>
<text x="39.82" y="373.37" font-size="9.727" textLength="16.329" lengthAdjust="spacingAndGlyphs" fill="#000" stroke="#000" stroke-width="0.42" stroke-linejoin="round">0.4</text>
<text x="39.78" y="425.88" font-size="9.379" textLength="17.617" lengthAdjust="spacingAndGlyphs" fill="#000" stroke="#000" stroke-width="0.42" stroke-linejoin="round">0.2</text>
<text x="49.5" y="479.34" font-size="11.050" textLength="6.805" lengthAdjust="spacingAndGlyphs" fill="#000" stroke="#000" stroke-width="0.42" stroke-linejoin="round">0</text>
<text x="53.41" y="489.76" font-size="10.101" textLength="19.758" lengthAdjust="spacingAndGlyphs" fill="#000" stroke="#000" stroke-width="0.42" stroke-linejoin="round">716</text>
<text x="209.21" y="489.76" font-size="10.101" textLength="19.863" lengthAdjust="spacingAndGlyphs" fill="#000" stroke="#000" stroke-width="0.42" stroke-linejoin="round">717</text>
<text x="365" y="489.76" font-size="10.101" textLength="20.283" lengthAdjust="spacingAndGlyphs" fill="#000" stroke="#000" stroke-width="0.42" stroke-linejoin="round">718</text>
<text x="521.2" y="489.76" font-size="10.101" textLength="20.388" lengthAdjust="spacingAndGlyphs" fill="#000" stroke="#000" stroke-width="0.42" stroke-linejoin="round">719</text>
<text x="676.68" y="489.75" font-size="10.407" textLength="20.914" lengthAdjust="spacingAndGlyphs" fill="#000" stroke="#000" stroke-width="0.42" stroke-linejoin="round">720</text>
<text x="358.12" y="506.84" font-size="10.903" textLength="33.476" lengthAdjust="spacingAndGlyphs" fill="#000" stroke="#000" stroke-width="0.42" stroke-linejoin="round">λ(AA)</text>
<text transform="rotate(-90)" font-size="10.6" fill="#000" stroke="#000" stroke-width="0.42" stroke-linejoin="round"><tspan x="-349.3" y="22.83" font-size="11.307" textLength="34.758" lengthAdjust="spacingAndGlyphs">norm.</tspan> <tspan x="-306.8" y="22.85" font-size="10.661" textLength="23.150" lengthAdjust="spacingAndGlyphs">flux</tspan></text>
</svg>
</body></html>
